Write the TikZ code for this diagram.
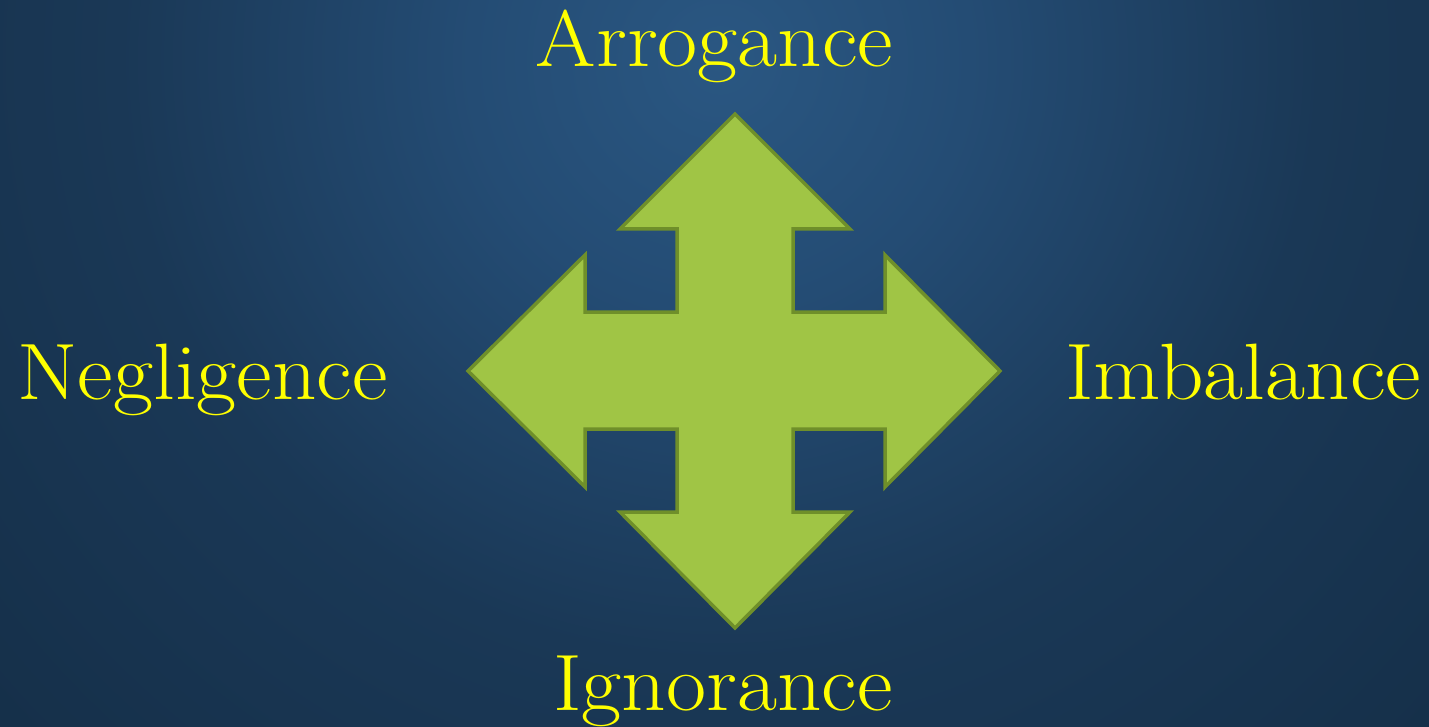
\documentclass[tikz,border=0pt]{standalone}
\usepackage{fontspec}
\definecolor{bglight}{HTML}{2A5782}
\definecolor{bgmid1}{HTML}{244C74}
\definecolor{bgmid2}{HTML}{1A3856}
\definecolor{bgmid3}{HTML}{132C44}
\definecolor{bgdark}{HTML}{0B1928}
\definecolor{arrowfill}{HTML}{A0C545}
\definecolor{arrowline}{HTML}{6F8F2A}
\definecolor{labelyellow}{HTML}{FFFF00}
\pgfdeclareradialshading{bgshade}{\pgfpoint{0bp}{0bp}}{color(0bp)=(bglight); color(5bp)=(bgmid1); color(12bp)=(bgmid2); color(23bp)=(bgmid3); color(35bp)=(bgdark); color(50bp)=(bgdark)}
\newcommand{\widetext}[1]{\scalebox{1.09}[1]{#1}}
\tikzset{
  label text/.style={text=labelyellow, inner sep=0pt, anchor=base, font=\fontsize{80}{92}\selectfont},
  arrow shape/.style={fill=arrowfill, draw=arrowline, line width=3.5pt, line join=miter}
}
\begin{document}
\begin{tikzpicture}[x=1pt,y=-1pt]
  \useasboundingbox (0,0) rectangle (1429,727);
  \begin{scope}
    \clip (0,0) rectangle (1429,727);
    \fill[bgdark] (0,0) rectangle (1429,727);
    \shade[shading=bgshade] (720,60) circle (1250);
  \end{scope}
  \draw[arrow shape]
    (735,114) -- (850,229) -- (793,229) -- (793,312) -- (885,312) -- (885,255)
    -- (1000,371) -- (885,487) -- (885,429) -- (793,429) -- (793,512) -- (850,512)
    -- (735,628) -- (620,512) -- (677,512) -- (677,429) -- (585,429) -- (585,487)
    -- (468,371) -- (585,255) -- (585,312) -- (677,312) -- (677,229) -- (620,229) -- cycle;
  \node[label text] (arrogance) at (714.5,67) {\widetext{Arrogance}};
  \node[label text] (negligence) at (202.5,399) {\widetext{Negligence}};
  \node[label text] (imbalance) at (1243,399) {\widetext{Imbalance}};
  \node[label text] (ignorance) at (723,710) {\widetext{Ignorance}};
\end{tikzpicture}
\end{document}
